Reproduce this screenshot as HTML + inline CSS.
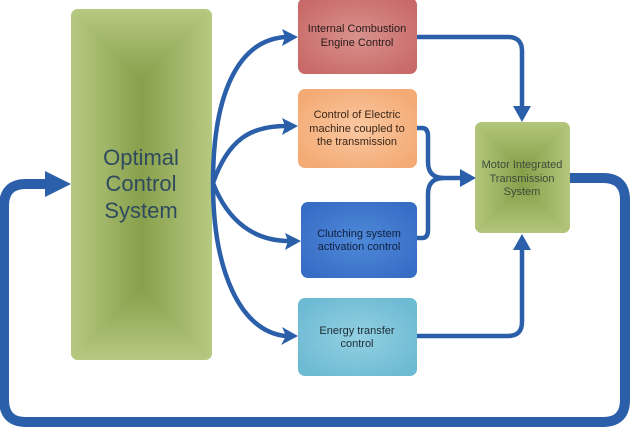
<!DOCTYPE html>
<html><head><meta charset="utf-8"><style>
html,body{margin:0;padding:0;background:#fff;}
body{width:630px;height:428px;overflow:hidden;}
svg{display:block;}
text{font-family:"Liberation Sans",Arial,sans-serif;}
</style></head><body>
<svg width="630" height="428" viewBox="0 0 630 428" xmlns="http://www.w3.org/2000/svg">
<defs>
<!-- Optimal box rectangular gradient -->
<linearGradient id="oT" gradientUnits="userSpaceOnUse" x1="0" y1="9" x2="0" y2="80"><stop offset="0" stop-color="#b6c981"/><stop offset="1" stop-color="#88a04c"/></linearGradient>
<linearGradient id="oB" gradientUnits="userSpaceOnUse" x1="0" y1="360" x2="0" y2="289"><stop offset="0" stop-color="#b6c981"/><stop offset="1" stop-color="#88a04c"/></linearGradient>
<linearGradient id="oL" gradientUnits="userSpaceOnUse" x1="71" y1="0" x2="141.5" y2="0"><stop offset="0" stop-color="#b6c981"/><stop offset="1" stop-color="#88a04c"/></linearGradient>
<linearGradient id="oR" gradientUnits="userSpaceOnUse" x1="212" y1="0" x2="141.5" y2="0"><stop offset="0" stop-color="#b6c981"/><stop offset="1" stop-color="#88a04c"/></linearGradient>
<clipPath id="cO"><rect x="71" y="9" width="141" height="351" rx="7"/></clipPath>
<!-- Motor box rectangular gradient -->
<linearGradient id="mT" gradientUnits="userSpaceOnUse" x1="0" y1="122" x2="0" y2="169.5"><stop offset="0" stop-color="#b3c67c"/><stop offset="1" stop-color="#86a04a"/></linearGradient>
<linearGradient id="mB" gradientUnits="userSpaceOnUse" x1="0" y1="233" x2="0" y2="185.5"><stop offset="0" stop-color="#b3c67c"/><stop offset="1" stop-color="#86a04a"/></linearGradient>
<linearGradient id="mL" gradientUnits="userSpaceOnUse" x1="475" y1="0" x2="522.5" y2="0"><stop offset="0" stop-color="#b3c67c"/><stop offset="1" stop-color="#86a04a"/></linearGradient>
<linearGradient id="mR" gradientUnits="userSpaceOnUse" x1="570" y1="0" x2="522.5" y2="0"><stop offset="0" stop-color="#b3c67c"/><stop offset="1" stop-color="#86a04a"/></linearGradient>
<clipPath id="cM"><rect x="475" y="122" width="95" height="111" rx="7"/></clipPath>

<radialGradient id="gR" cx="50%" cy="50%" r="60%">
<stop offset="0" stop-color="#d9928e"/><stop offset="1" stop-color="#c86a68"/>
</radialGradient>
<radialGradient id="gO" cx="50%" cy="50%" r="60%">
<stop offset="0" stop-color="#fbc8a2"/><stop offset="1" stop-color="#f3aa74"/>
</radialGradient>
<radialGradient id="gB" cx="50%" cy="50%" r="60%">
<stop offset="0" stop-color="#4f8ad9"/><stop offset="1" stop-color="#386dc6"/>
</radialGradient>
<radialGradient id="gC" cx="50%" cy="50%" r="60%">
<stop offset="0" stop-color="#93d0e2"/><stop offset="1" stop-color="#6dbad3"/>
</radialGradient>
</defs>

<!-- Optimal Control System -->
<g clip-path="url(#cO)">
<rect x="71" y="9" width="141" height="351" fill="#9fb466"/>
<polygon points="71,9 212,9 141.5,79.5" fill="url(#oT)" stroke="url(#oT)" stroke-width="0.6"/>
<polygon points="71,360 212,360 141.5,289.5" fill="url(#oB)" stroke="url(#oB)" stroke-width="0.6"/>
<polygon points="71,9 141.5,79.5 141.5,289.5 71,360" fill="url(#oL)" stroke="url(#oL)" stroke-width="0.6"/>
<polygon points="212,9 141.5,79.5 141.5,289.5 212,360" fill="url(#oR)" stroke="url(#oR)" stroke-width="0.6"/>
</g>
<g font-size="22" fill="#2f4a5e" text-anchor="middle">
<text x="141" y="165">Optimal</text>
<text x="141" y="191">Control</text>
<text x="141" y="218">System</text>
</g>

<!-- right boxes -->
<rect x="298" y="-2" width="119" height="76" rx="7" fill="url(#gR)"/>
<rect x="298" y="89" width="119" height="79" rx="7" fill="url(#gO)"/>
<rect x="301" y="202" width="116" height="76" rx="7" fill="url(#gB)"/>
<rect x="298" y="298" width="119" height="78" rx="7" fill="url(#gC)"/>

<g font-size="11" text-anchor="middle">
<text x="357" y="32" fill="#2a1a1a">Internal Combustion</text>
<text x="357" y="46" fill="#2a1a1a">Engine Control</text>
<text x="357" y="118" fill="#3a2616">Control of Electric</text>
<text x="357" y="132" fill="#3a2616">machine coupled to</text>
<text x="357" y="145" fill="#3a2616">the transmission</text>
<text x="359" y="237" fill="#0f1f3d">Clutching system</text>
<text x="359" y="250" fill="#0f1f3d">activation control</text>
<text x="357" y="334" fill="#1c2c34">Energy transfer</text>
<text x="357" y="347" fill="#1c2c34">control</text>
</g>

<!-- Motor Integrated -->
<g clip-path="url(#cM)">
<rect x="475" y="122" width="95" height="111" fill="#9db364"/>
<polygon points="475,122 570,122 522.5,169.5" fill="url(#mT)" stroke="url(#mT)" stroke-width="0.6"/>
<polygon points="475,233 570,233 522.5,185.5" fill="url(#mB)" stroke="url(#mB)" stroke-width="0.6"/>
<polygon points="475,122 522.5,169.5 522.5,185.5 475,233" fill="url(#mL)" stroke="url(#mL)" stroke-width="0.6"/>
<polygon points="570,122 522.5,169.5 522.5,185.5 570,233" fill="url(#mR)" stroke="url(#mR)" stroke-width="0.6"/>
</g>
<g font-size="11" fill="#3e4a3a" text-anchor="middle">
<text x="522" y="168">Motor Integrated</text>
<text x="522" y="182">Transmission</text>
<text x="522" y="195">System</text>
</g>

<!-- connectors -->
<g fill="none" stroke="#2b5fa9" stroke-width="4.5">
<path d="M213,183 C213,100 235,40 286,37"/>
<path d="M213,183 C228,140 250,126 286,126"/>
<path d="M213,183 C228,222 255,241 289,241"/>
<path d="M213,183 C213,270 240,332 286,336"/>
<path d="M417,37 H508 Q522,37 522,51 V108"/>
<path d="M417,128 H422 Q428,128 428,136 V162 Q428,178 444,178 H462"/>
<path d="M417,238 H422 Q428,238 428,230 V194 Q428,178 444,178"/>
<path d="M417,336 H508 Q522,336 522,322 V248"/>
</g>
<g fill="#2b5fa9">
<polygon points="298,37 282,29 285,37 282,46"/>
<polygon points="298,126 282,118 285,126 282,135"/>
<polygon points="301,241 285,233 288,241 285,250"/>
<polygon points="298,336 282,327 286,336 281,345"/>
<polygon points="522,122 513,106 531,106"/>
<polygon points="522,234 513,250 531,250"/>
<polygon points="476,178 460,169 460,187"/>
</g>

<!-- feedback loop -->
<path d="M570,178 H603 Q625,178 625,200 V400 Q625,422 603,422 H26 Q4,422 4,400 V206 Q4,184 26,184 H48" fill="none" stroke="#2b5fa9" stroke-width="10"/>
<polygon points="71,184 45,171 45,197" fill="#2b5fa9"/>
</svg>
</body></html>
